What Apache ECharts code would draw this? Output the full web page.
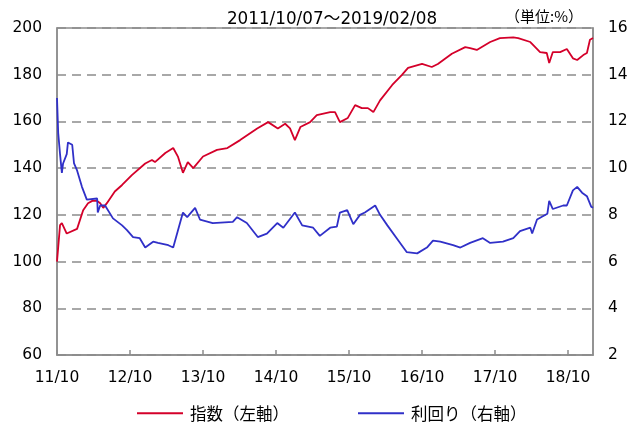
<!DOCTYPE html>
<html>
<head>
<meta charset="utf-8">
<script src="https://cdn.jsdelivr.net/npm/echarts@6/dist/echarts.min.js"></script>
<style>
  html, body { margin: 0; padding: 0; background: #fff; }
  #main { width: 643px; height: 423px; }
</style>
</head>
<body>
<div id="main"></div>
<script>
// x = months since 2011/10/07
var periodText = '2011/10/07～2019/02/08';
var unitText = '（単位:%）';
var indexName = '指数（左軸）';
var yieldName = '利回り（右軸）';

var indexMonth = [0, 0.5, 0.8, 1.6, 3.3, 4.3, 5.1, 5.8, 6.6, 7.1, 7.6, 8.2, 9.5, 10.7, 12.3, 14.5, 15.6, 16.1, 17.8, 19.1,
  19.9, 20.7, 21.5, 22.4, 24, 26.3, 28, 30.1, 32.9, 34.7, 36.3, 37.5, 38.3, 39.1, 40, 41.6, 42.7, 44.9, 45.7, 46.5,
  47.8, 49, 50.1, 51.1, 52, 53.1, 55.1, 56.7, 57.7, 60, 61.6, 62.6, 64.9, 67.1, 67.9, 69, 71.2, 72.8, 75, 75.8,
  77.8, 79.4, 80.5, 80.9, 81.5, 82.7, 83.8, 84.8, 85.5, 86.5, 87.1, 87.6, 88.1];
var indexValue = [100, 115.6, 116.5, 112, 114, 122, 125, 126, 126, 125, 123, 125, 130, 132.8, 137, 142, 143.5, 142.6, 146.5, 148.6,
  144.8, 138, 142.6, 140, 145, 147.8, 148.6, 152, 157, 159.7, 157, 159, 157, 152, 157.6, 159.7, 162.7, 164, 164, 159.7,
  161.5, 167, 165.7, 165.7, 164, 169, 175.6, 179.9, 182.9, 184.6, 183.3, 184.6, 189, 191.8, 191.4, 190.6, 194, 195.7, 196, 195.7,
  194, 189.7, 189.3, 185, 189.7, 189.7, 191, 187, 186.3, 188.4, 189.3, 195, 195.7];

var yieldMonth = [0, 0.2, 0.5, 0.8, 1.0, 1.6, 1.8, 2.5, 2.8, 3.3, 4.1, 4.9, 5.1, 6.6, 6.7, 7.1, 7.9, 9.2, 10.7, 11.5,
  12.5, 13.6, 14.5, 15.8, 16.6, 18.3, 19.1, 19.9, 20.7, 21.4, 22.7, 23.5, 25.6, 28.9, 29.6, 31.2, 33, 34.5, 36.2, 37.2,
  39.1, 40.3, 42.1, 43.2, 44.9, 46, 46.5, 47.7, 48.7, 49.8, 50.6, 52.3, 53.1, 54.3, 56.1, 57.5, 59.2, 60.8, 61.8, 63,
  65.1, 66.3, 67.9, 70, 71.2, 73.3, 75, 76.1, 77.8, 78.1, 78.9, 80.6, 80.9, 81.5, 83.2, 83.8, 84.8, 85.5, 86.3, 87.1,
  87.8, 88.1];
var yieldValue = [13.0, 11.5, 10.6, 9.8, 10.2, 10.6, 11.1, 11.0, 10.2, 9.9, 9.2, 8.65, 8.7, 8.7, 8.1, 8.4, 8.4, 7.85, 7.55, 7.35,
  7.05, 7.0, 6.6, 6.85, 6.8, 6.7, 6.6, 7.35, 8.1, 7.9, 8.3, 7.8, 7.65, 7.7, 7.9, 7.65, 7.05, 7.2, 7.65, 7.45,
  8.1, 7.55, 7.45, 7.1, 7.45, 7.5, 8.1, 8.2, 7.6, 8.0, 8.1, 8.4, 8.0, 7.55, 6.9, 6.4, 6.35, 6.6, 6.9, 6.85,
  6.7, 6.6, 6.8, 7.0, 6.8, 6.85, 7.0, 7.3, 7.45, 7.2, 7.8, 8.05, 8.6, 8.25, 8.4, 8.4, 9.05, 9.2, 8.95, 8.8,
  8.35, 8.3];

var startYear = 11;
var labelMonth = '10';

function pairs(xs, ys) {
    var out = [];
    for (var i = 0; i < xs.length; i++) {
        out.push([xs[i], ys[i]]);
    }
    return out;
}

var numFont = '"DejaVu Sans", "Noto Sans CJK JP", sans-serif';
var cjkFont = '"Noto Sans CJK JP", "DejaVu Sans", sans-serif';
var gray = '#8c8c8c';

var myChart = echarts.init(document.getElementById('main'));

var option = {
    animation: false,
    backgroundColor: '#fff',
    textStyle: { fontFamily: cjkFont, color: '#000' },
    title: [{
        text: periodText,
        left: 327,
        textAlign: 'center',
        top: 6,
        textStyle: { fontSize: 16.8, fontWeight: 'normal', color: '#000', fontFamily: numFont }
    }, {
        text: unitText,
        left: 500,
        top: 4,
        textStyle: { fontSize: 15, fontWeight: 'normal', color: '#000', fontFamily: cjkFont }
    }],
    legend: {
        left: 132,
        top: 400,
        itemGap: 69,
        itemWidth: 46,
        itemHeight: 2,
        icon: 'rect',
        textStyle: { fontSize: 16.5, color: '#000', fontFamily: cjkFont, padding: [0, 0, 0, 2] },
        data: [indexName, yieldName]
    },
    grid: {
        left: 57,
        right: 50,
        top: 28,
        bottom: 68,
        show: true,
        borderColor: gray,
        borderWidth: 1.5,
        containLabel: false
    },
    xAxis: {
        type: 'value',
        min: 0,
        max: 88.1,
        interval: 12,
        axisLine: { show: true, lineStyle: { color: gray, width: 1.5 } },
        axisTick: { show: true, inside: true, length: 5, lineStyle: { color: gray, width: 1.5 } },
        splitLine: { show: false },
        axisLabel: {
            fontSize: 15.5,
            color: '#000',
            fontFamily: numFont,
            margin: 15,
            showMaxLabel: false,
            formatter: function (v) {
                if (v % 12 !== 0) return '';
                return (startYear + v / 12) + '/' + labelMonth;
            }
        }
    },
    yAxis: [{
        type: 'value',
        min: 60,
        max: 200,
        interval: 20,
        axisLine: { show: true, lineStyle: { color: gray, width: 1.5 } },
        axisTick: { show: false },
        splitLine: { show: true, lineStyle: { color: gray, type: [9, 6], width: 1.5 } },
        axisLabel: { fontSize: 15.5, color: '#000', fontFamily: numFont, margin: 15 }
    }, {
        type: 'value',
        min: 2,
        max: 16,
        interval: 2,
        position: 'right',
        axisLine: { show: true, lineStyle: { color: gray, width: 1.5 } },
        axisTick: { show: false },
        splitLine: { show: false },
        axisLabel: { fontSize: 15.5, color: '#000', fontFamily: numFont, margin: 15 }
    }],
    series: [{
        name: indexName,
        type: 'line',
        yAxisIndex: 0,
        showSymbol: false,
        symbol: 'none',
        color: '#d4002a',
        lineStyle: { width: 1.8, color: '#d4002a' },
        data: pairs(indexMonth, indexValue)
    }, {
        name: yieldName,
        type: 'line',
        yAxisIndex: 1,
        showSymbol: false,
        symbol: 'none',
        color: '#3030c8',
        lineStyle: { width: 1.8, color: '#3030c8' },
        data: pairs(yieldMonth, yieldValue)
    }]
};

myChart.setOption(option);
</script>
</body>
</html>
